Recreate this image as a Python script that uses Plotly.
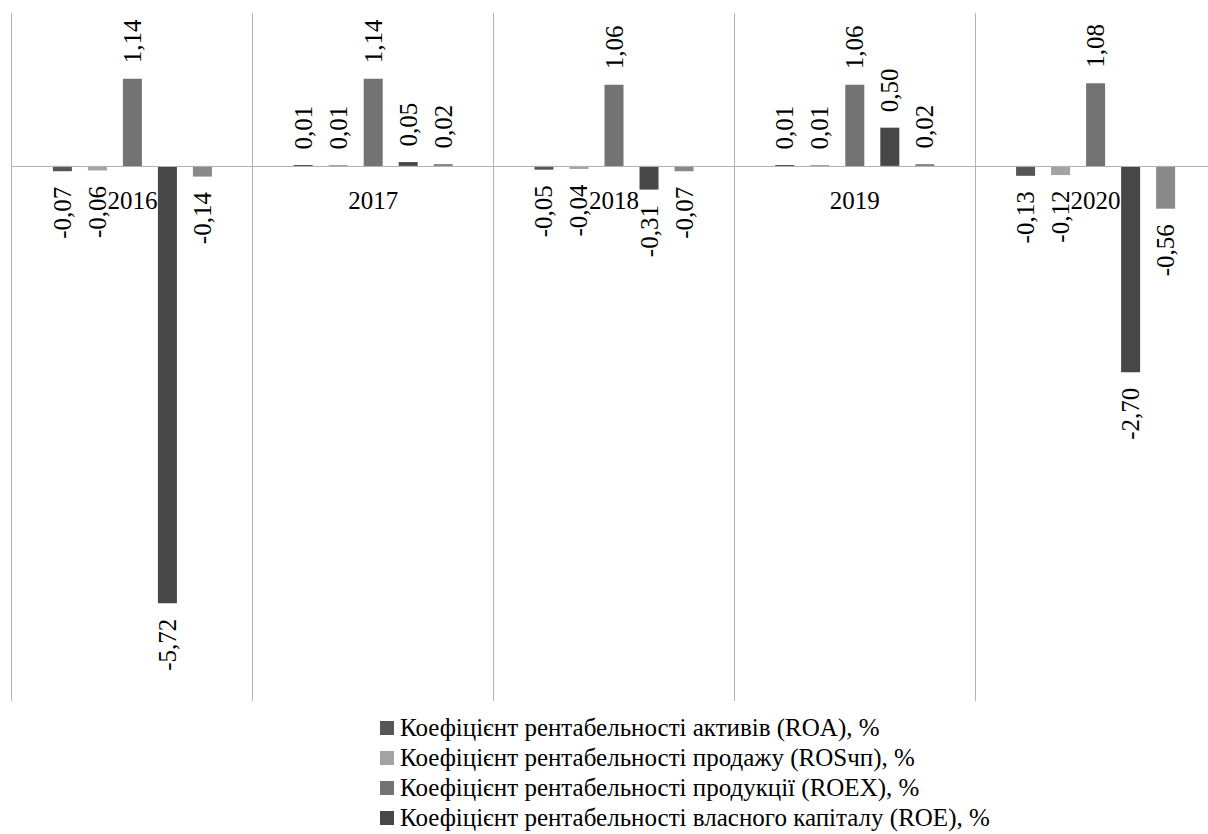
import plotly.graph_objects as go

# Years and profitability ratios (%)
years = ["2016", "2017", "2018", "2019", "2020"]
roa = [-0.07, 0.01, -0.05, 0.01, -0.13]
ros = [-0.06, 0.01, -0.04, 0.01, -0.12]
roex = [1.14, 1.14, 1.06, 1.06, 1.08]
roe = [-5.72, 0.05, -0.31, 0.50, -2.70]
ros_other = [-0.14, 0.02, -0.07, 0.02, -0.56]

names = [
    "Коефіцієнт рентабельності активів (ROA), %",
    "Коефіцієнт рентабельності продажу (ROSчп), %",
    "Коефіцієнт рентабельності продукції (ROEX), %",
    "Коефіцієнт рентабельності власного капіталу (ROE), %",
    "Коефіцієнт рентабельності діяльності, %",
]
series = [roa, ros, roex, roe, ros_other]
colors = ["#565656", "#a3a3a3", "#737373", "#474747", "#898989"]
in_legend = [True, True, True, True, False]

FONT = "Liberation Serif, Times New Roman, serif"
W, H = 1208, 834
L, R, T, B = 12, 0, 13, 133
PW, PH = W - L - R, H - T - B
CAT_PX = 240.8  # width of one year column in pixels

NBSP = "\u00a0\u00a0"


def label(v):
    s = f"{v:.2f}".replace(".", ",")
    # rotated labels: pad the end that faces the bar
    return NBSP + s if v >= 0 else s + NBSP


def px_to_paper_x(px):
    return (px - L) / PW


def px_to_paper_y(py):
    return (H - B - py) / PH


fig = go.Figure()
for name, vals, col in zip(names, series, colors):
    fig.add_trace(go.Bar(
        x=years, y=vals, name=name,
        marker=dict(color=col, line=dict(width=0)),
        text=[label(v) for v in vals],
        textposition="outside", textangle=-90,
        textfont=dict(family=FONT, size=25, color="#000000"),
        constraintext="none", cliponaxis=False,
        showlegend=False,
    ))

# Legend drawn as coloured squares with text rows beneath the plot
shapes, annotations = [], []
row0, row_step = 728, 30
for i, (name, col, show) in enumerate(zip(names, colors, in_legend)):
    if not show:
        continue
    cy = row0 + i * row_step
    shapes.append(dict(
        type="rect", xref="paper", yref="paper",
        x0=px_to_paper_x(380), x1=px_to_paper_x(394),
        y0=px_to_paper_y(cy + 7), y1=px_to_paper_y(cy - 7),
        fillcolor=col, line=dict(width=0), layer="above",
    ))
    annotations.append(dict(
        xref="paper", yref="paper",
        x=px_to_paper_x(398), y=px_to_paper_y(cy),
        xanchor="left", yanchor="middle", showarrow=False,
        text=name, font=dict(family=FONT, size=25, color="#000000"),
    ))

ymin, ymax = -7, 2
fig.update_layout(
    width=W, height=H,
    margin=dict(l=L, r=R, t=T, b=B, pad=0),
    paper_bgcolor="#ffffff", plot_bgcolor="#ffffff",
    barmode="group", bargap=0.273, bargroupgap=0.457,
    showlegend=False,
    font=dict(family=FONT, size=25, color="#000000"),
    shapes=shapes, annotations=annotations,
    xaxis=dict(
        type="category",
        range=[-0.5, -0.5 + PW / CAT_PX],
        anchor="free", position=(0 - ymin) / (ymax - ymin),
        tickson="boundaries", ticks="",
        showgrid=True, gridcolor="#b3b3b3", gridwidth=1,
        showline=True, linecolor="#b3b3b3", linewidth=1,
        tickfont=dict(family=FONT, size=25, color="#000000"),
        ticklabelstandoff=12,
        zeroline=False, fixedrange=True,
    ),
    yaxis=dict(
        range=[ymin, ymax], showgrid=False, zeroline=False,
        showticklabels=False, ticks="",
        showline=True, linecolor="#b3b3b3", linewidth=1,
        fixedrange=True,
    ),
)

fig.write_html("out.html")
